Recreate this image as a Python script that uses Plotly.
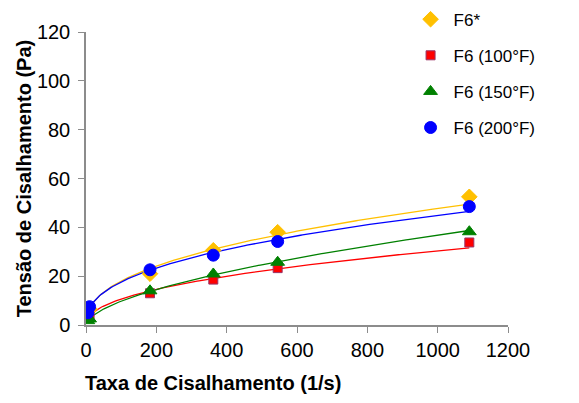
import numpy as np
import plotly.graph_objects as go

shear_rate = [5.1, 10.2, 182, 362, 545, 1090]
f6_star = [5.5, 6.5, 21.0, 30.6, 38.0, 52.5]
f6_100 = [3.0, 3.5, 13.0, 18.6, 23.3, 33.8]
f6_150 = [1.8, 2.5, 14.0, 20.9, 25.7, 38.2]
f6_200 = [5.0, 7.5, 22.6, 28.6, 34.2, 48.5]

names = ["F6*", "F6 (100°F)", "F6 (150°F)", "F6 (200°F)"]
series = [f6_star, f6_100, f6_150, f6_200]
colors = ["#FFC000", "#FF0000", "#008000", "#0000FF"]
symbols = ["diamond", "square", "triangle-up", "circle"]
line_borders = ["#FFC000", "#993366", "#008000", "#0000FF"]

fig = go.Figure()
xs = np.array(shear_rate)
xfit = np.linspace(xs.min(), xs.max(), 200)
for name, ys, c in zip(names, series, colors):
    ya = np.array(ys)
    b, a = np.polyfit(np.log(xs), np.log(ya), 1)
    fig.add_trace(go.Scatter(x=xfit, y=np.exp(a) * xfit ** b, mode="lines",
                             line=dict(color=c, width=1.3), showlegend=False,
                             hoverinfo="skip"))
for i, (name, ys, c, s, bc) in enumerate(zip(names, series, colors, symbols, line_borders)):
    fig.add_trace(go.Scatter(x=shear_rate, y=ys, mode="markers", name=name,
                             legendgroup=str(i),
                             marker=dict(color=c, symbol=s, size=12 if s != "square" else 9,
                                         line=dict(color=bc, width=1))))

axis_common = dict(showgrid=False, zeroline=False, showline=True, linecolor="#8c8c8c",
                   linewidth=1.5, ticks="outside", ticklen=6, tickcolor="#8c8c8c",
                   automargin=False,
                   tickfont=dict(family="Arial", size=20, color="#000"))
fig.update_layout(
    width=571, height=395,
    margin=dict(l=78, r=71, t=0, b=78, autoexpand=False),
    plot_bgcolor="white", paper_bgcolor="white",
    font=dict(family="Arial", color="#000"),
    xaxis=dict(range=[0, 1200], dtick=200, **axis_common),
    yaxis=dict(range=[0, 120], dtick=20, domain=[0, 293 / 317], ticklabelstandoff=4,
               title=dict(text="<b>Tensão de Cisalhamento (Pa)</b>", font=dict(size=20), standoff=0),
               **axis_common),
    legend=dict(x=0.762, y=1.02, xanchor="left", yanchor="top", font=dict(size=17),
                itemwidth=36,
                traceorder="grouped", tracegroupgap=11, bgcolor="rgba(0,0,0,0)"),
    annotations=[dict(text="<b>Taxa de Cisalhamento (1/s)</b>", xref="paper", yref="paper",
                      x=0.301, y=-0.183, xanchor="center", yanchor="middle",
                      showarrow=False, font=dict(size=20))],
)
fig.write_html("out.html")
